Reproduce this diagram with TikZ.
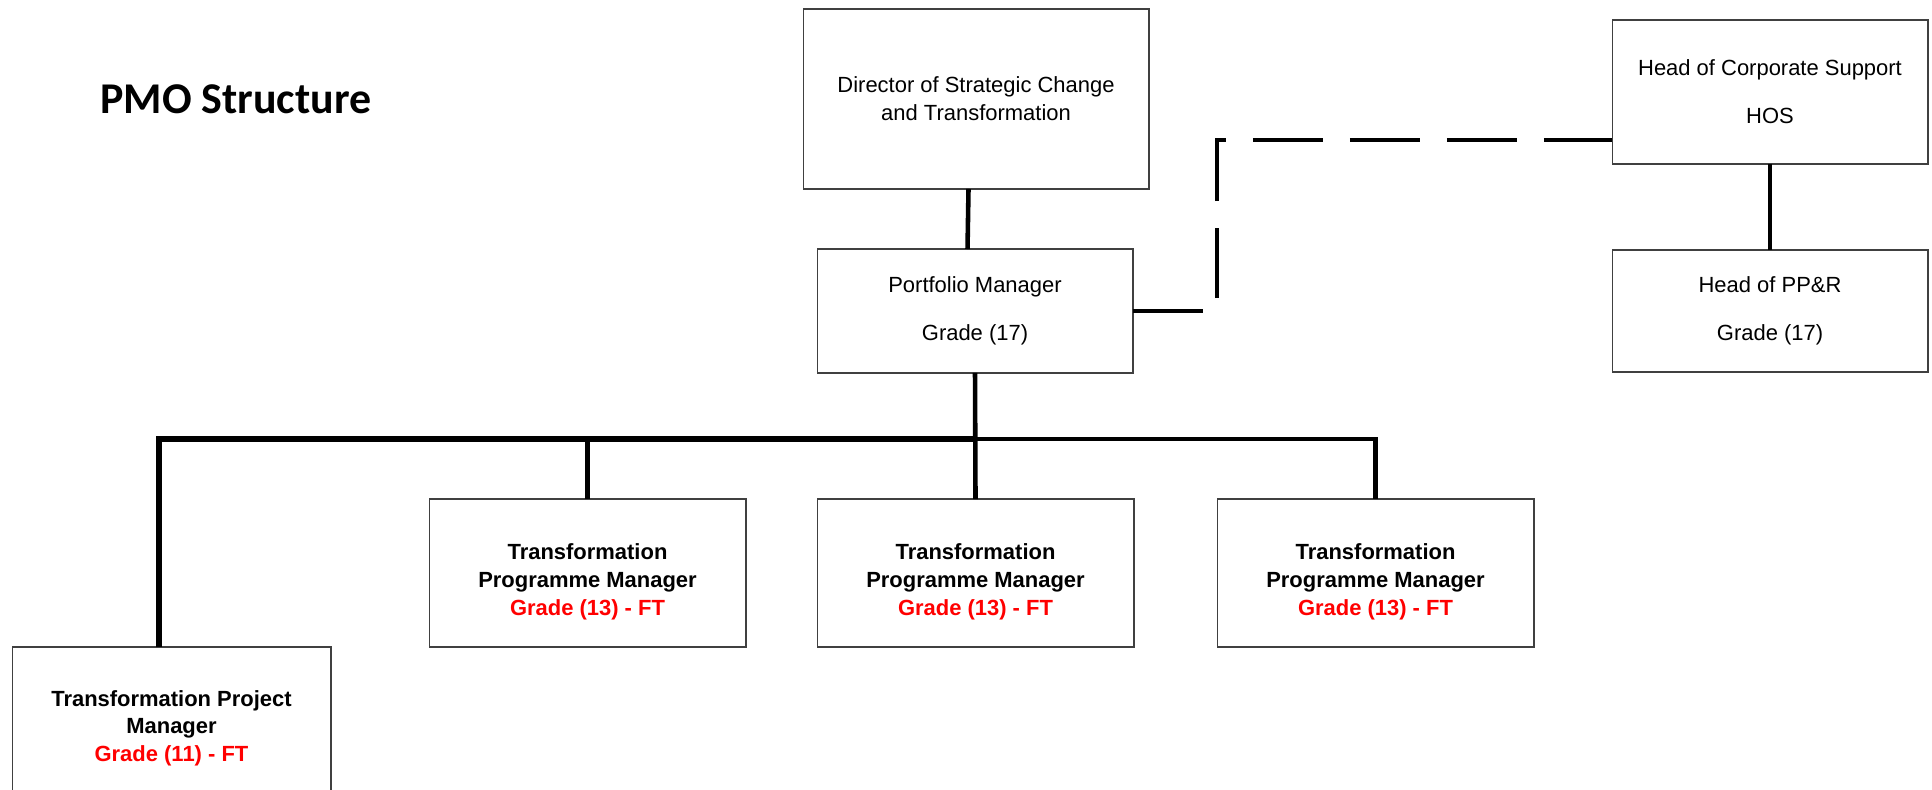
\documentclass[tikz,border=0pt]{standalone}
\usepackage{fontspec}
\setmainfont{Liberation Sans}
\newfontfamily\titlefont{Carlito}
\usepackage{xcolor}
\usepackage{tikz}
\usetikzlibrary{positioning}

\begin{document}
\begin{tikzpicture}[x=0.02cm, y=-0.02cm,
  box/.style={draw=black!75, line width=0.6pt, align=center, inner sep=0pt, outer sep=0pt,
              font=\fontsize{12.5pt}{15.9pt}\selectfont},
  boldbox/.style={box, font=\fontsize{12.5pt}{15.9pt}\selectfont\bfseries},
  tpmbox/.style={boldbox, minimum width=6.34cm, minimum height=2.96cm},
  link/.style={line width=2.6pt},
  dashlink/.style={line width=2.6pt, dash pattern=on 1.4cm off 0.54cm}]
  \useasboundingbox (0,0) rectangle (1932,790);
  \node[anchor=base west, inner sep=0pt, font=\titlefont\fontsize{25pt}{30pt}\selectfont\bfseries]
    (title) at (100,114) {PMO Structure};
  \node[box, minimum width=6.92cm, minimum height=3.6cm] (dir) at (976,99)
    {Director of Strategic Change\\and Transformation};
  \node[box, minimum width=6.32cm, minimum height=2.48cm] (port) at (975,311)
    {Portfolio Manager\\[0.4cm]Grade (17)};
  \node[box, minimum width=6.32cm, minimum height=2.88cm] (hos) at (1770,92)
    {Head of Corporate Support\\[0.4cm]HOS};
  \node[box, minimum width=6.32cm, minimum height=2.44cm] (ppr) at (1770,311)
    {Head of PP\&R\\[0.4cm]Grade (17)};
  % struts push the text a little below the middle, as in the chart
  \node[tpmbox] (tpm1) at (587.5,573)
    {\rule{0pt}{19pt}Transformation\\Programme Manager\\\textcolor{red}{Grade (13) - FT}};
  \node[tpmbox] (tpm2) at (975.5,573)
    {\rule{0pt}{19pt}Transformation\\Programme Manager\\\textcolor{red}{Grade (13) - FT}};
  \node[tpmbox] (tpm3) at (1375.5,573)
    {\rule{0pt}{19pt}Transformation\\Programme Manager\\\textcolor{red}{Grade (13) - FT}};
  \node[boldbox, minimum width=6.38cm, minimum height=3.06cm] (tprj) at (171.5,723.5)
    {\rule{0pt}{14.5pt}Transformation Project\\Manager\\\textcolor{red}{Grade (11) - FT}};
  \coordinate (bus) at (975,439);
  \coordinate (bend) at (1217,140);
  \draw[link] ([xshift=-0.15cm]dir.south) -- ([xshift=-0.15cm]port.north);
  \draw[link] (port.south) -- (tpm2.north);
  \draw[link, line width=3.3pt] ([xshift=-0.25cm]tprj.north) |- (bus);
  \draw[link] (tpm1.north) -- (tpm1.north |- bus);
  \draw[link] (bus) -| (tpm3.north);
  \draw[link] (hos.south) -- (ppr.north);
  \draw[dashlink] (port.east) -| (bend) -- (bend -| hos.west);
\end{tikzpicture}
\end{document}
